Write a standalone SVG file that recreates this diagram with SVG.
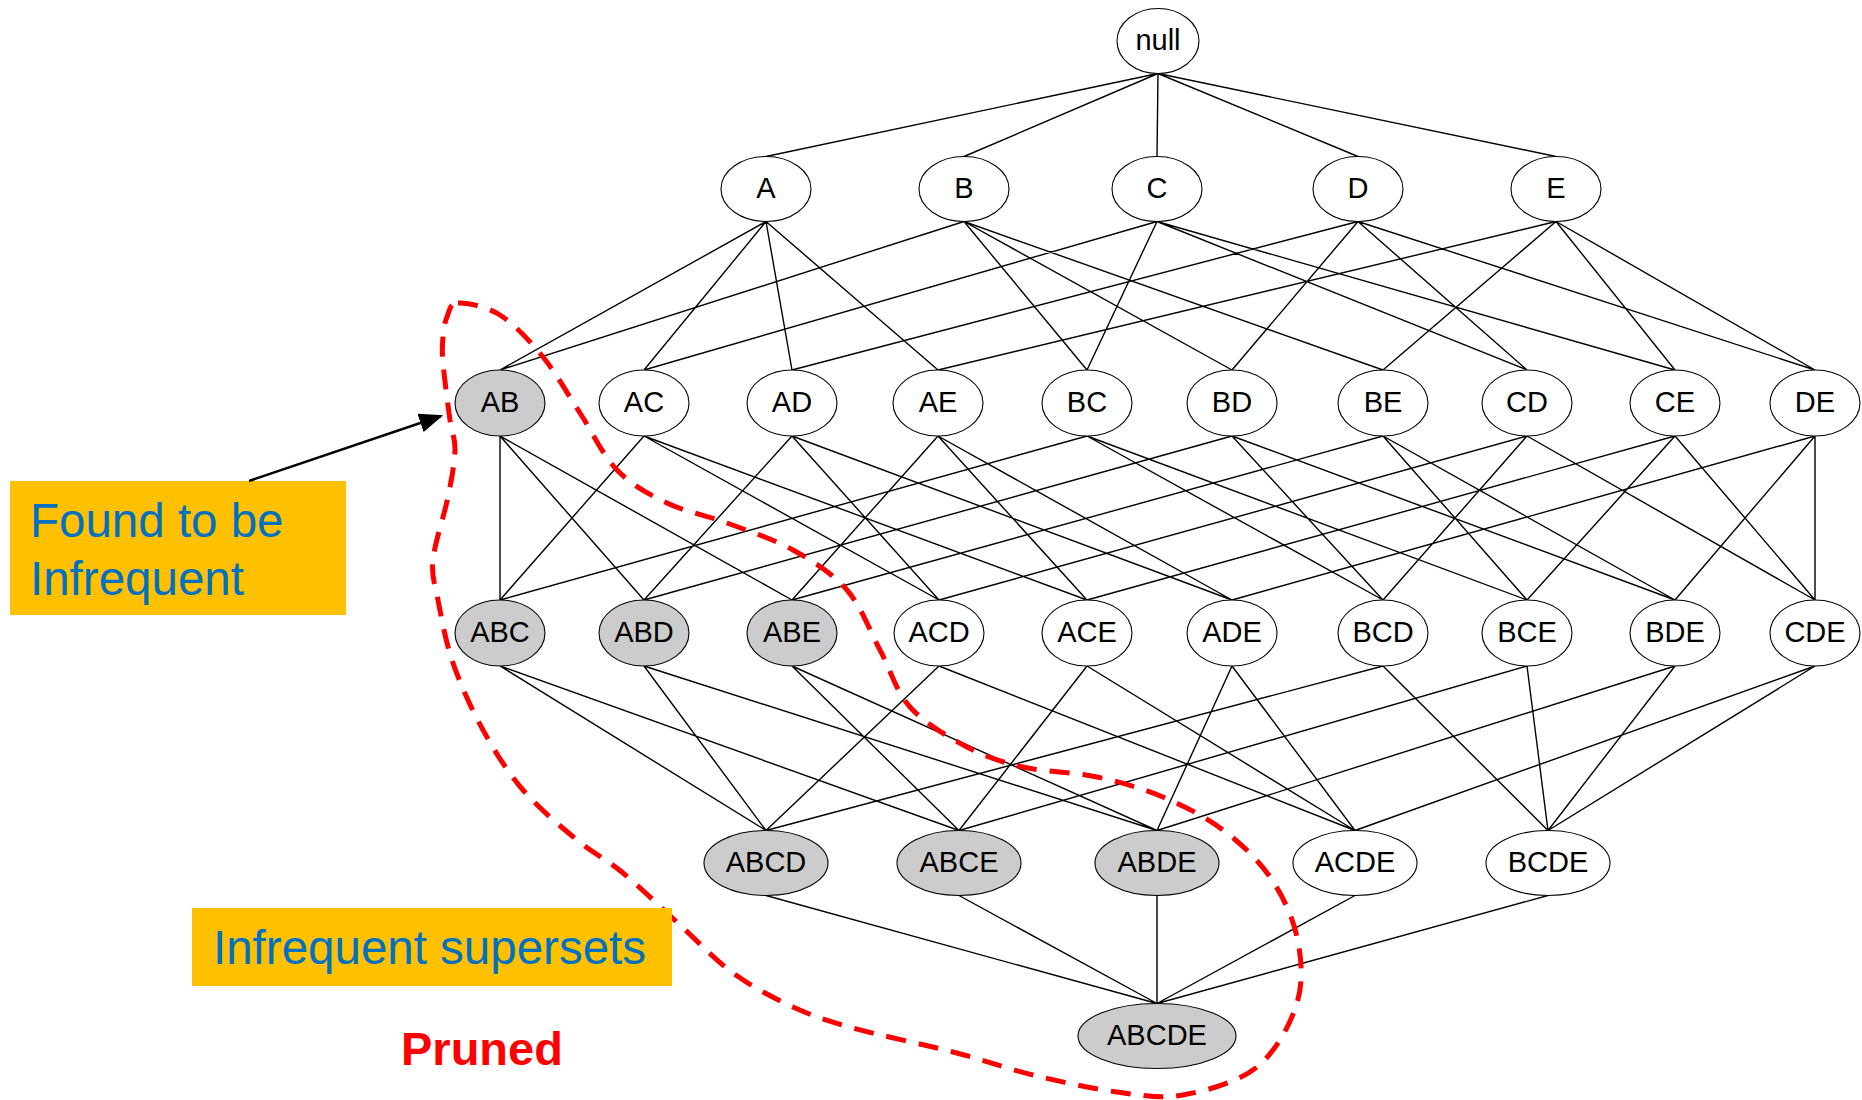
<svg xmlns="http://www.w3.org/2000/svg" width="1862" height="1100" viewBox="0 0 1862 1100">
<style>
.e{stroke:#000;stroke-width:1.4;fill:none}
.n ellipse{fill:#fff;stroke:#000;stroke-width:1.1}
.n.g ellipse{fill:#ccc}
.n text{font-family:"Liberation Sans",Arial,sans-serif;font-size:29px;text-anchor:middle;fill:#000}
.lbl{font-family:"Liberation Sans",Arial,sans-serif;font-size:47.5px;fill:#0070C0}
</style>
<defs>
<marker id="ah" markerWidth="10" markerHeight="8" refX="9" refY="4" orient="auto" markerUnits="strokeWidth">
<path d="M0,0 L10,4 L0,8 Z" fill="#000"/>
</marker>
</defs>
<rect width="1862" height="1100" fill="#fff"/>
<g id="connectors">
<path class="e" d="M1158,73.5L766,156.5M1158,73.5L964,156.5M1158,73.5L1157,156.5M1158,73.5L1358,156.5M1158,73.5L1556,156.5"/>
<path class="e" d="M766,221.5L500,370M766,221.5L644,370M766,221.5L792,370M766,221.5L938,370
M964,221.5L500,370M964,221.5L1087,370M964,221.5L1232,370M964,221.5L1383,370
M1157,221.5L644,370M1157,221.5L1087,370M1157,221.5L1527,370M1157,221.5L1675,370
M1358,221.5L792,370M1358,221.5L1232,370M1358,221.5L1527,370M1358,221.5L1815,370
M1556,221.5L938,370M1556,221.5L1383,370M1556,221.5L1675,370M1556,221.5L1815,370"/>
<path class="e" d="M500,436L500,600M500,436L644,600M500,436L792,600
M644,436L500,600M644,436L939,600M644,436L1087,600
M792,436L644,600M792,436L939,600M792,436L1232,600
M938,436L792,600M938,436L1087,600M938,436L1232,600
M1087,436L500,600M1087,436L1383,600M1087,436L1527,600
M1232,436L644,600M1232,436L1383,600M1232,436L1675,600
M1383,436L792,600M1383,436L1527,600M1383,436L1675,600
M1527,436L939,600M1527,436L1383,600M1527,436L1815,600
M1675,436L1087,600M1675,436L1527,600M1675,436L1815,600
M1815,436L1232,600M1815,436L1675,600M1815,436L1815,600"/>
<path class="e" d="M500,666L766,830.5M500,666L959,830.5
M644,666L766,830.5M644,666L1157,830.5
M792,666L959,830.5M792,666L1157,830.5
M939,666L766,830.5M939,666L1355,830.5
M1087,666L959,830.5M1087,666L1355,830.5
M1232,666L1157,830.5M1232,666L1355,830.5
M1383,666L766,830.5M1383,666L1548,830.5
M1527,666L959,830.5M1527,666L1548,830.5
M1675,666L1157,830.5M1675,666L1548,830.5
M1815,666L1355,830.5M1815,666L1548,830.5"/>
<path class="e" d="M766,895.5L1157,1003.5M959,895.5L1157,1003.5M1157,895.5L1157,1003.5M1355,895.5L1157,1003.5M1548,895.5L1157,1003.5"/>
</g>
<g id="node-null" class="n"><ellipse cx="1158" cy="41" rx="41" ry="32.5"/><text x="1158" y="49.5">null</text></g>
<g id="node-A" class="n"><ellipse cx="766" cy="189" rx="45" ry="32.5"/><text x="766" y="197.5">A</text></g>
<g id="node-B" class="n"><ellipse cx="964" cy="189" rx="45" ry="32.5"/><text x="964" y="197.5">B</text></g>
<g id="node-C" class="n"><ellipse cx="1157" cy="189" rx="45" ry="32.5"/><text x="1157" y="197.5">C</text></g>
<g id="node-D" class="n"><ellipse cx="1358" cy="189" rx="45" ry="32.5"/><text x="1358" y="197.5">D</text></g>
<g id="node-E" class="n"><ellipse cx="1556" cy="189" rx="45" ry="32.5"/><text x="1556" y="197.5">E</text></g>
<g id="node-AB" class="n g"><ellipse cx="500" cy="403" rx="45" ry="33"/><text x="500" y="411.5">AB</text></g>
<g id="node-AC" class="n"><ellipse cx="644" cy="403" rx="45" ry="33"/><text x="644" y="411.5">AC</text></g>
<g id="node-AD" class="n"><ellipse cx="792" cy="403" rx="45" ry="33"/><text x="792" y="411.5">AD</text></g>
<g id="node-AE" class="n"><ellipse cx="938" cy="403" rx="45" ry="33"/><text x="938" y="411.5">AE</text></g>
<g id="node-BC" class="n"><ellipse cx="1087" cy="403" rx="45" ry="33"/><text x="1087" y="411.5">BC</text></g>
<g id="node-BD" class="n"><ellipse cx="1232" cy="403" rx="45" ry="33"/><text x="1232" y="411.5">BD</text></g>
<g id="node-BE" class="n"><ellipse cx="1383" cy="403" rx="45" ry="33"/><text x="1383" y="411.5">BE</text></g>
<g id="node-CD" class="n"><ellipse cx="1527" cy="403" rx="45" ry="33"/><text x="1527" y="411.5">CD</text></g>
<g id="node-CE" class="n"><ellipse cx="1675" cy="403" rx="45" ry="33"/><text x="1675" y="411.5">CE</text></g>
<g id="node-DE" class="n"><ellipse cx="1815" cy="403" rx="45" ry="33"/><text x="1815" y="411.5">DE</text></g>
<g id="node-ABC" class="n g"><ellipse cx="500" cy="633" rx="45" ry="33"/><text x="500" y="641.5">ABC</text></g>
<g id="node-ABD" class="n g"><ellipse cx="644" cy="633" rx="45" ry="33"/><text x="644" y="641.5">ABD</text></g>
<g id="node-ABE" class="n g"><ellipse cx="792" cy="633" rx="45" ry="33"/><text x="792" y="641.5">ABE</text></g>
<g id="node-ACD" class="n"><ellipse cx="939" cy="633" rx="45" ry="33"/><text x="939" y="641.5">ACD</text></g>
<g id="node-ACE" class="n"><ellipse cx="1087" cy="633" rx="45" ry="33"/><text x="1087" y="641.5">ACE</text></g>
<g id="node-ADE" class="n"><ellipse cx="1232" cy="633" rx="45" ry="33"/><text x="1232" y="641.5">ADE</text></g>
<g id="node-BCD" class="n"><ellipse cx="1383" cy="633" rx="45" ry="33"/><text x="1383" y="641.5">BCD</text></g>
<g id="node-BCE" class="n"><ellipse cx="1527" cy="633" rx="45" ry="33"/><text x="1527" y="641.5">BCE</text></g>
<g id="node-BDE" class="n"><ellipse cx="1675" cy="633" rx="45" ry="33"/><text x="1675" y="641.5">BDE</text></g>
<g id="node-CDE" class="n"><ellipse cx="1815" cy="633" rx="45" ry="33"/><text x="1815" y="641.5">CDE</text></g>
<g id="node-ABCD" class="n g"><ellipse cx="766" cy="863" rx="62" ry="32.5"/><text x="766" y="871.5">ABCD</text></g>
<g id="node-ABCE" class="n g"><ellipse cx="959" cy="863" rx="62" ry="32.5"/><text x="959" y="871.5">ABCE</text></g>
<g id="node-ABDE" class="n g"><ellipse cx="1157" cy="863" rx="62" ry="32.5"/><text x="1157" y="871.5">ABDE</text></g>
<g id="node-ACDE" class="n"><ellipse cx="1355" cy="863" rx="62" ry="32.5"/><text x="1355" y="871.5">ACDE</text></g>
<g id="node-BCDE" class="n"><ellipse cx="1548" cy="863" rx="62" ry="32.5"/><text x="1548" y="871.5">BCDE</text></g>
<g id="node-ABCDE" class="n g"><ellipse cx="1157" cy="1036" rx="79" ry="32.5"/><text x="1157" y="1044.5">ABCDE</text></g>
<g id="pruned-boundary">
<path fill="none" stroke="#f00" stroke-width="5" stroke-dasharray="20 13" d="M458,303 C466.8,302.7 485.8,306 500,315 C514.2,324 529.7,340.7 543,357 C556.3,373.3 567.7,394.2 580,413 C592.3,431.8 602.5,455 617,470 C631.5,485 648.7,494.2 667,503 C685.3,511.8 706,515.2 727,523 C748,530.8 773,538.8 793,550 C813,561.2 832.5,573.3 847,590 C861.5,606.7 869.5,630.5 880,650 C890.5,669.5 895.5,690.8 910,707 C924.5,723.2 948.2,737 967,747 C985.8,757 1001.3,762 1023,767 C1044.7,772 1073.7,772 1097,777 C1120.3,782 1142,788.2 1163,797 C1184,805.8 1205.2,816.7 1223,830 C1240.8,843.3 1257.7,859.2 1270,877 C1282.3,894.8 1292.5,916 1297,937 C1301.5,958 1303.7,981.3 1297,1003 C1290.3,1024.7 1276,1051.7 1257,1067 C1238,1082.3 1206.3,1090.8 1183,1095 C1159.7,1099.2 1142,1095.3 1117,1092 C1092,1088.7 1060.3,1081.7 1033,1075 C1005.7,1068.3 983,1059.8 953,1052 C923,1044.2 879.7,1035.5 853,1028 C826.3,1020.5 813,1016.2 793,1007 C773,997.8 751.8,986.7 733,973 C714.2,959.3 698.3,941.7 680,925 C661.7,908.3 640.2,887.2 623,873 C605.8,858.8 593.7,853.8 577,840 C560.3,826.2 538.7,808.3 523,790 C507.3,771.7 494.7,751.2 483,730 C471.3,708.8 460.5,684.7 453,663 C445.5,641.3 441.3,617.2 438,600 C434.7,582.8 431.3,577.2 433,560 C434.7,542.8 444.3,515.3 448,497 C451.7,478.7 454.7,462.8 455,450 C455.3,437.2 452,434.5 450,420 C448,405.5 444.2,376.8 443,363 C441.8,349.2 442.3,344.7 443,337 C443.7,329.3 444.5,322.7 447,317 C449.5,311.3 449.2,303.3 458,303 Z"/>
</g>
<g id="note-infrequent">
<rect x="10" y="481" width="336" height="134" fill="#FFC000"/>
<text class="lbl" x="30" y="537">Found to be</text>
<text class="lbl" x="30" y="595">Infrequent</text>
</g>
<line id="arrow" x1="249" y1="481" x2="441" y2="416" stroke="#000" stroke-width="2.4" marker-end="url(#ah)"/>
<g id="note-supersets">
<rect x="192" y="908" width="480" height="78" fill="#FFC000"/>
<text class="lbl" x="213" y="964">Infrequent supersets</text>
</g>
<text x="401" y="1065" font-family="'Liberation Sans',Arial,sans-serif" font-size="47" font-weight="bold" fill="#f00">Pruned</text>
</svg>
